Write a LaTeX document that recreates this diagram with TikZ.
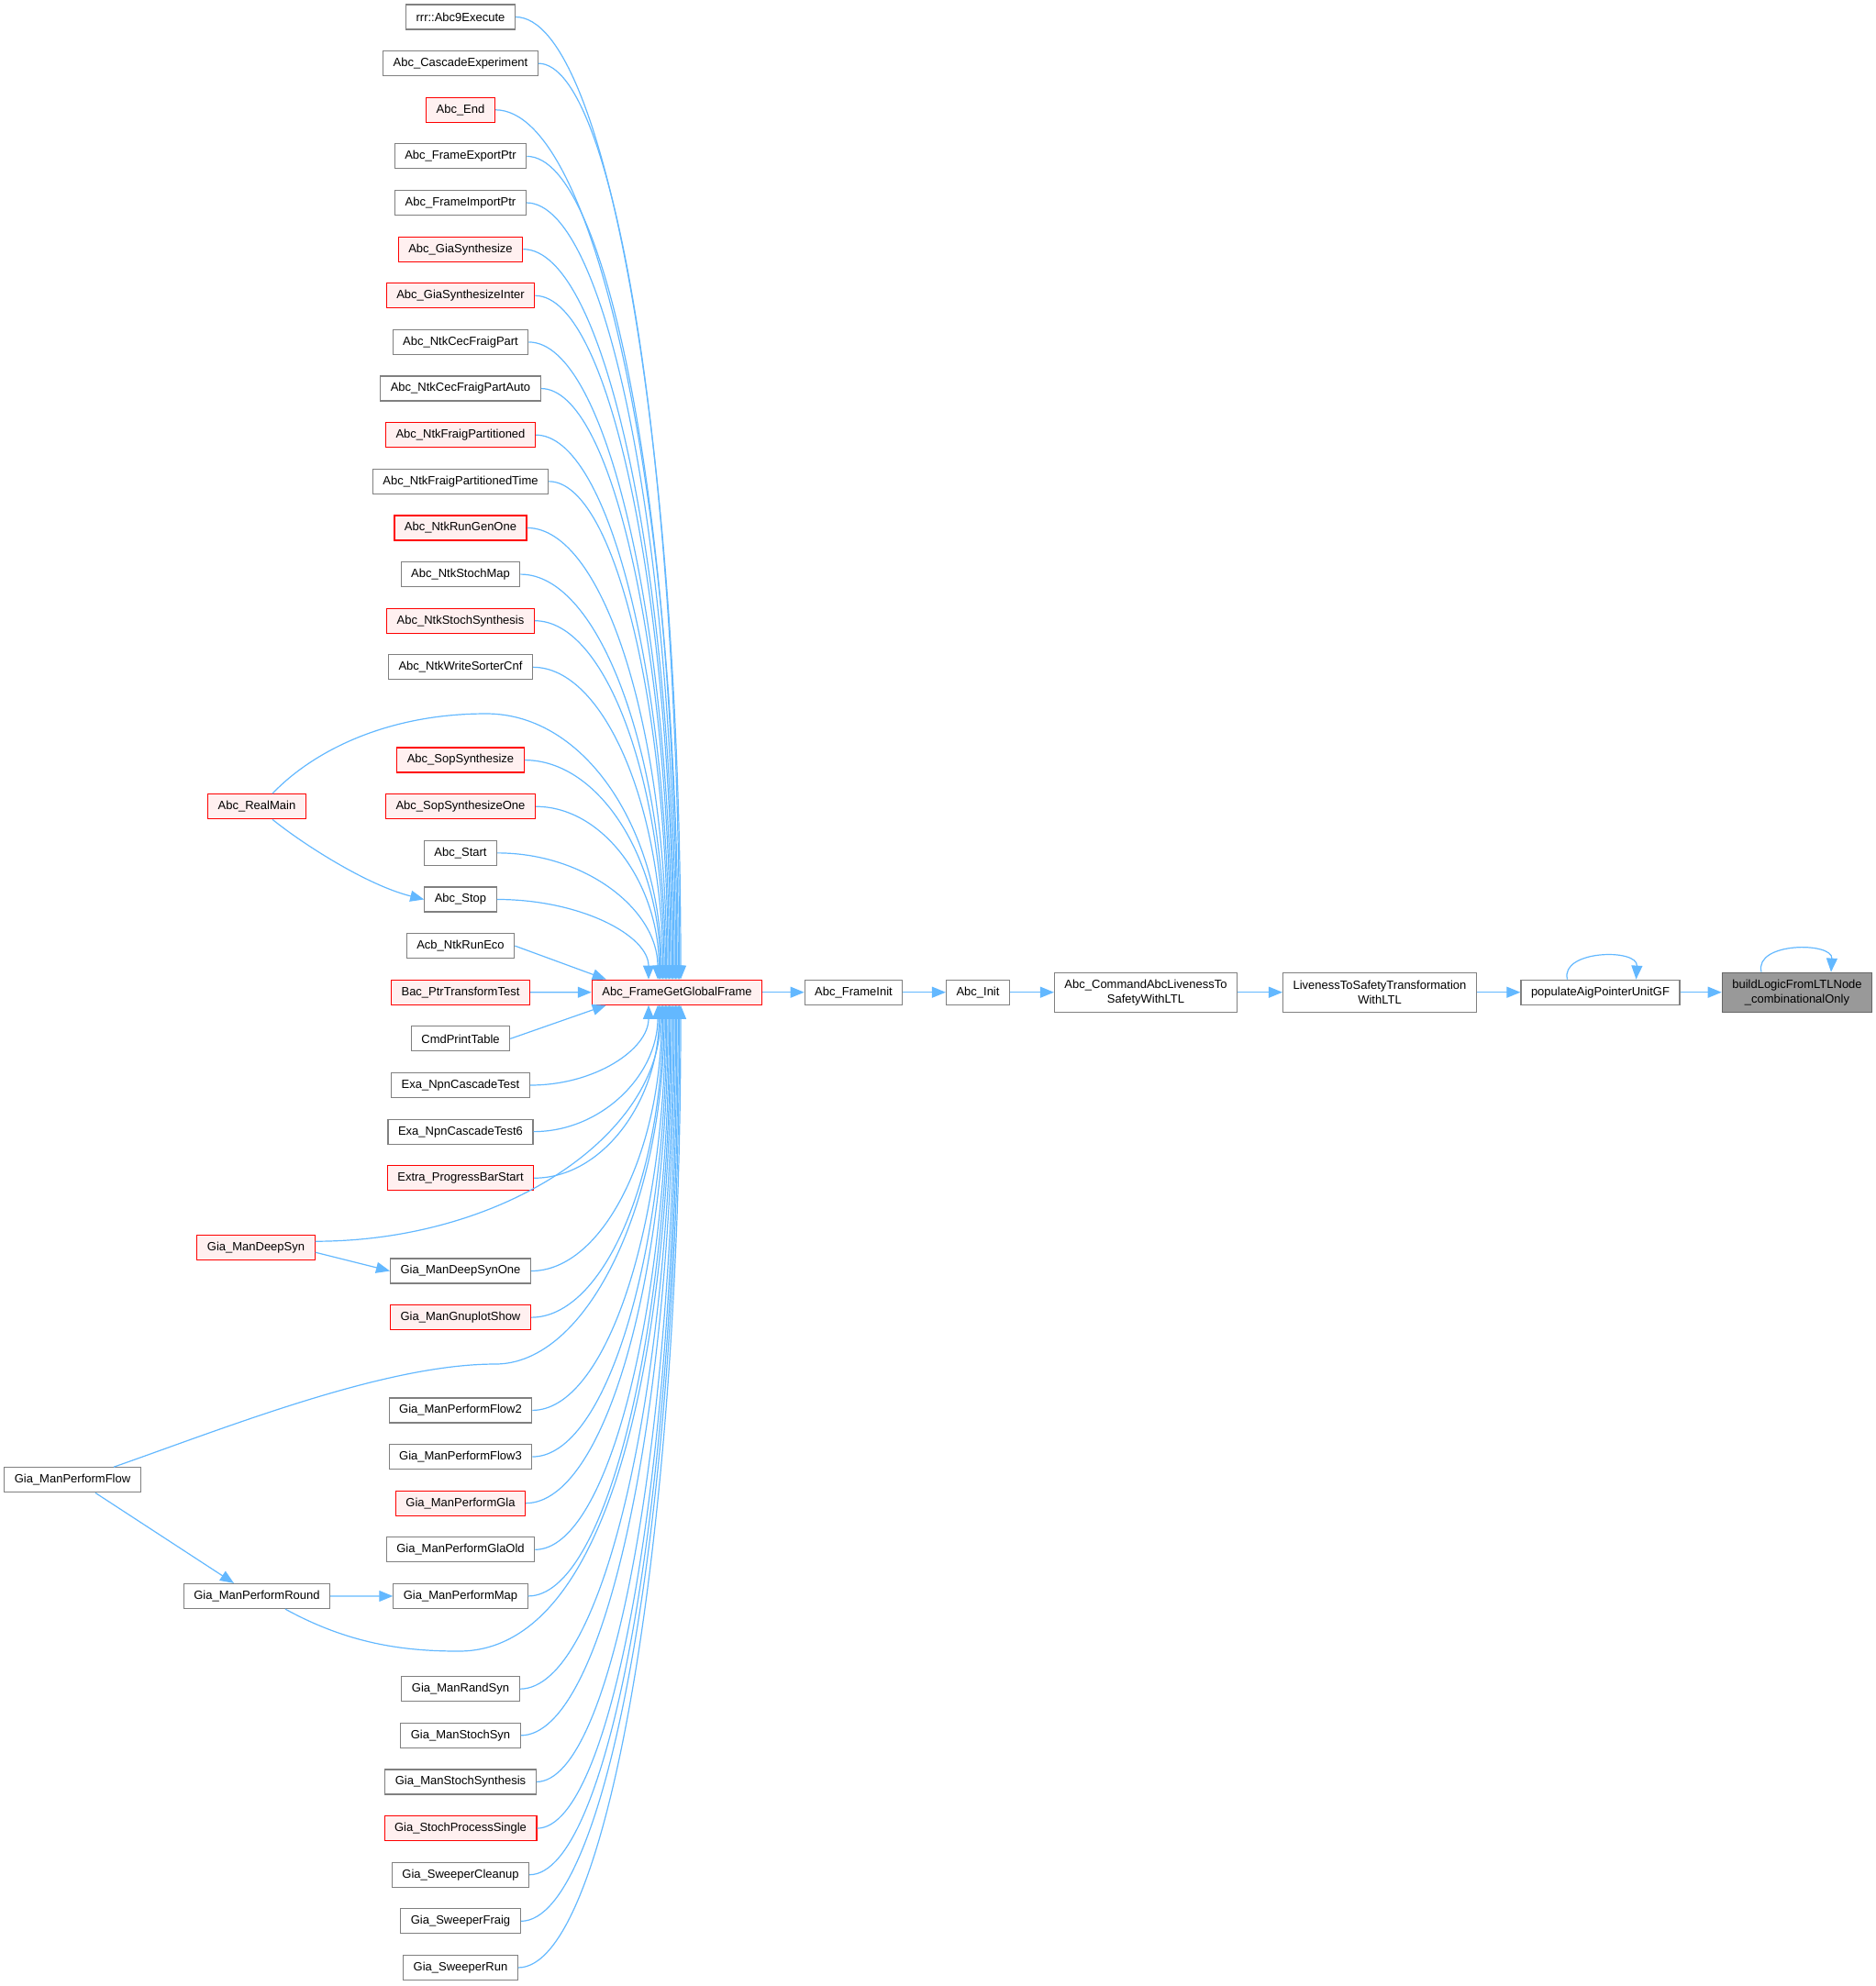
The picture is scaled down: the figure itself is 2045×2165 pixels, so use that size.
\documentclass[tikz,border=0pt]{standalone}
\usepackage{fontspec}
\setmainfont{Liberation Sans}
\usepackage{xcolor}
\usepackage{tikz}
\usetikzlibrary{calc}
\usetikzlibrary{arrows.meta, positioning}
\definecolor{edgeblue}{HTML}{63B8FF}
\definecolor{boxgrey}{HTML}{808080}
\definecolor{redfill}{HTML}{FFF0F0}
\definecolor{curfill}{HTML}{999999}
\definecolor{curdraw}{HTML}{666666}
\tikzset{calls/.style={draw=edgeblue, line width=0.6pt, -{Triangle[length=7.5pt,width=6pt]}}}
%quarter ellipse bend from a caller to the callee
\newcommand{\callarc}[2]{\draw[calls] (#1) let \p1=(#1), \p2=(#2) in
  .. controls ({\x1+0.55*(\x2-\x1)},\y1) and (\x2,{\y2+0.55*(\y1-\y2)}) .. (\p2);}

\begin{document}
\begin{tikzpicture}[x=0.5pt,y=-0.5pt,
  fnbox/.style={rectangle,draw=boxgrey,fill=white,line width=0.6pt,font=\fontsize{6.5}{8}\selectfont,
                inner xsep=5.5pt,inner ysep=1pt,minimum height=13.5pt,align=center},
  fnred/.style={fnbox,draw=red,fill=redfill},
  fncur/.style={fnbox,draw=curdraw,fill=curfill}]

\useasboundingbox (0,0) rectangle (2045,2165);

%DRAWING the column of callers
 \foreach \i/\name/\kind in {0/rrr::Abc9Execute/fnbox, 1/Abc\_CascadeExperiment/fnbox,
   2/Abc\_End/fnred, 3/Abc\_FrameExportPtr/fnbox, 4/Abc\_FrameImportPtr/fnbox,
   5/Abc\_GiaSynthesize/fnred, 6/Abc\_GiaSynthesizeInter/fnred, 7/Abc\_NtkCecFraigPart/fnbox,
   8/Abc\_NtkCecFraigPartAuto/fnbox, 9/Abc\_NtkFraigPartitioned/fnred,
   10/Abc\_NtkFraigPartitionedTime/fnbox, 11/Abc\_NtkRunGenOne/fnred, 12/Abc\_NtkStochMap/fnbox,
   13/Abc\_NtkStochSynthesis/fnred, 14/Abc\_NtkWriteSorterCnf/fnbox, 16/Abc\_SopSynthesize/fnred,
   17/Abc\_SopSynthesizeOne/fnred, 18/Abc\_Start/fnbox, 19/Abc\_Stop/fnbox, 20/Acb\_NtkRunEco/fnbox,
   21/Bac\_PtrTransformTest/fnred, 22/CmdPrintTable/fnbox, 23/Exa\_NpnCascadeTest/fnbox,
   24/Exa\_NpnCascadeTest6/fnbox, 25/Extra\_ProgressBarStart/fnred, 27/Gia\_ManDeepSynOne/fnbox,
   28/Gia\_ManGnuplotShow/fnred, 30/Gia\_ManPerformFlow2/fnbox, 31/Gia\_ManPerformFlow3/fnbox,
   32/Gia\_ManPerformGla/fnred, 33/Gia\_ManPerformGlaOld/fnbox, 34/Gia\_ManPerformMap/fnbox,
   36/Gia\_ManRandSyn/fnbox, 37/Gia\_ManStochSyn/fnbox, 38/Gia\_ManStochSynthesis/fnbox,
   39/Gia\_StochProcessSingle/fnred, 40/Gia\_SweeperCleanup/fnbox, 41/Gia\_SweeperFraig/fnbox,
   42/Gia\_SweeperRun/fnbox}
 {\node[\kind] (Caller\i) at (502,{18.5+50.63*\i}) {\name};}

%Inserting the outer callers and the chain
  \node[fnred] (RealMain) at (280,879.2) {Abc\_RealMain};
  \node[fnred] (DeepSyn) at (279,1360.2) {Gia\_ManDeepSyn};
  \node[fnbox] (PerformFlow) at (79,1613.3) {Gia\_ManPerformFlow};
  \node[fnbox] (PerformRound) at (280,1740) {Gia\_ManPerformRound};

  \node[fnred] (GlobalFrame) at (738,1081.7) {Abc\_FrameGetGlobalFrame};
  \node[fnbox] (FrameInit) at (930.5,1081.7) {Abc\_FrameInit};
  \node[fnbox] (AbcInit) at (1066,1081.7) {Abc\_Init};
  \node[fnbox,minimum height=21.5pt] (CommandLtl) at (1249,1081.7) {Abc\_CommandAbcLivenessTo\\SafetyWithLTL};
  \node[fnbox,minimum height=21.5pt] (LivenessLtl) at (1504,1081.7) {LivenessToSafetyTransformation\\WithLTL};
  \node[fnbox] (PopulateGF) at (1744.5,1081.7) {populateAigPointerUnitGF};
  \node[fncur,minimum height=21.5pt] (BuildLogic) at (1959,1081.7) {buildLogicFromLTLNode\\\_combinationalOnly};

%Calls into Abc_FrameGetGlobalFrame from above
 \foreach \i in {0,...,14,16,17,18}
 {\pgfmathsetmacro{\dx}{-21+(18-\i)*25/18}
  \callarc{Caller\i.east}{$(GlobalFrame.north)+(\dx,0)$}}
  \callarc{Caller19.east}{$(GlobalFrame.north)+(-31,0)$}
  \draw[calls] (Caller20.east) -- ($(GlobalFrame.north west)+(16,0)$);
  \draw[calls] (Caller21.east) -- (GlobalFrame.west);

%Calls into Abc_FrameGetGlobalFrame from below
  \draw[calls] (Caller22.east) -- ($(GlobalFrame.south west)+(16,0)$);
  \callarc{Caller23.east}{$(GlobalFrame.south)+(-31,0)$}
 \foreach \i in {24,25,27,28,30,31,32,33,34,36,37,38,39,40,41,42}
 {\pgfmathsetmacro{\dx}{-21+(\i-24)*25/18}
  \callarc{Caller\i.east}{$(GlobalFrame.south)+(\dx,0)$}}

%Outer callers through the gaps
  \draw[calls] ($(RealMain.north)+(17,0)$) .. controls (340,820) and (420,778) .. (530,778)
     .. controls (640,778) and (721,908) .. ($(GlobalFrame.north)+(-17,0)$);
  \draw[calls] ($(DeepSyn.east)+(0,-7)$) .. controls (550,1353) and (720,1237) .. ($(GlobalFrame.south)+(-18,0)$);
  \draw[calls] ($(PerformFlow.north)+(45,0)$) .. controls (250,1555) and (420,1487) .. (540,1487)
     .. controls (641,1487) and (724,1311) .. ($(GlobalFrame.south)+(-14,0)$);
  \draw[calls] ($(PerformRound.south)+(31,0)$) .. controls (380,1792) and (440,1800) .. (500,1800)
     .. controls (670,1800) and (732,1460) .. ($(GlobalFrame.south)+(-6,0)$);

  \draw[calls] ($(RealMain.south)+(17,0)$) .. controls (330,920) and (400,965) .. (Caller19.west);
  \draw[calls] ($(DeepSyn.east)+(0,5)$) -- (Caller27.west);
  \draw[calls] ($(PerformFlow.south)+(25,0)$) -- ($(PerformRound.north)+(-25,0)$);
  \draw[calls] (PerformRound) -- (Caller34);

%The chain to the right
  \draw[calls] (GlobalFrame) -- (FrameInit);
  \draw[calls] (FrameInit) -- (AbcInit);
  \draw[calls] (AbcInit) -- (CommandLtl);
  \draw[calls] (CommandLtl) -- (LivenessLtl);
  \draw[calls] (LivenessLtl) -- (PopulateGF);
  \draw[calls] (PopulateGF) -- (BuildLogic);
  \draw[calls] ($(PopulateGF.north)+(-36,0)$) .. controls +(-8,-32) and +(2,-34) .. ($(PopulateGF.north)+(39,0)$);
  \draw[calls] ($(BuildLogic.north)+(-39,0)$) .. controls +(-8,-33) and +(2,-33) .. ($(BuildLogic.north)+(37,0)$);

\end{tikzpicture}
\end{document}
